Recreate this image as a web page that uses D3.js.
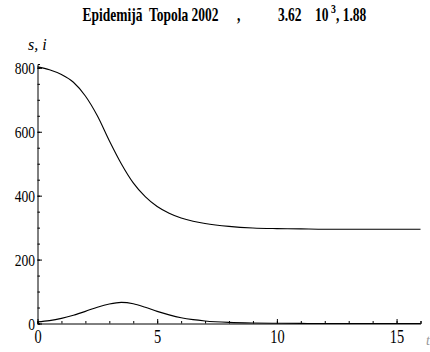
<!DOCTYPE html>
<html>
<head>
<meta charset="utf-8">
<script src="https://cdn.jsdelivr.net/npm/d3@7"></script>
<style>
  body { margin: 0; background: #fff; }
  svg { display: block; }
</style>
</head>
<body>
<div id="container"></div>
<script>
let w = 430;
let h = 352;

// time points
let tValues = [0, 0.5, 1, 1.5, 2, 2.5, 3, 3.5, 4, 4.5, 5, 5.5, 6, 6.5, 7, 8, 9, 10, 11, 12, 13, 14, 15, 16];
// susceptible s(t)
let sValues = [803, 794, 779, 755, 712, 650, 572, 500, 440, 397, 366, 345, 330, 320, 313, 304, 299, 297, 296, 295, 295, 295, 295, 295];
// infected i(t)
let iValues = [5, 9, 16, 26, 38, 51, 61, 66, 62, 51, 38, 27, 18, 12, 8, 3.5, 1.5, 0.7, 0.3, 0, 0, 0, 0, 0];

let xMajor = [0, 5, 10, 15];
let yMajor = [0, 200, 400, 600, 800];

let viz = d3.select("#container").append("svg")
    .attr("width", w)
    .attr("height", h)
;

let xScale = d3.scaleLinear().domain([0, 16]).range([37.5, 420.5]);
let yScale = d3.scaleLinear().domain([0, 812]).range([323.5, 64]);

let fontFam = "'Liberation Serif', 'Times New Roman', serif";

// x axis: minor ticks every unit, major every 5, all pointing up
let xAxisGroup = viz.append("g").attr("transform", "translate(0," + yScale(0) + ")");
xAxisGroup.call(d3.axisBottom(xScale).tickValues(d3.range(0, 17, 1)).tickSize(-2.5).tickFormat(""));
let xMajorGroup = viz.append("g").attr("transform", "translate(0," + yScale(0) + ")");
xMajorGroup.call(d3.axisBottom(xScale).tickValues(xMajor).tickSize(-4.5).tickPadding(8).tickFormat(d3.format("d")));
xMajorGroup.select(".domain").remove();

// y axis: minor ticks every 50, major every 200, pointing right
let yAxisGroup = viz.append("g").attr("transform", "translate(" + xScale(0) + ",0)");
yAxisGroup.call(d3.axisLeft(yScale).tickValues(d3.range(0, 801, 50)).tickSize(-2.5).tickFormat(""));
let yMajorGroup = viz.append("g").attr("transform", "translate(" + xScale(0) + ",0)");
yMajorGroup.call(d3.axisLeft(yScale).tickValues(yMajor).tickSize(-4.5).tickPadding(3).tickFormat(d3.format("d")));
yMajorGroup.select(".domain").remove();

viz.selectAll(".domain").attr("stroke", "#000").attr("stroke-width", 1);
viz.selectAll(".tick line").attr("stroke", "#000").attr("stroke-width", 1);

// squeezed serif tick labels, like the original export
xMajorGroup.selectAll("text")
  .attr("font-family", fontFam)
  .attr("font-size", 18)
  .attr("fill", "#000")
  .attr("dy", "0.62em")
  .attr("transform", "scale(0.8,1)")
;
yMajorGroup.selectAll("text")
  .attr("font-family", fontFam)
  .attr("font-size", 17)
  .attr("fill", "#000")
  .attr("x", -3)
  .attr("dy", "0.35em")
  .attr("transform", "scale(0.8,1)")
;

// curves
let line = d3.line()
  .x(function(d){ return xScale(d[0]); })
  .y(function(d){ return yScale(d[1]); })
  .curve(d3.curveMonotoneX)
;
let sData = tValues.map(function(t, k){ return [t, sValues[k]]; });
let iData = tValues.map(function(t, k){ return [t, iValues[k]]; });

viz.append("path").datum(sData)
  .attr("d", line).attr("fill", "none").attr("stroke", "#000").attr("stroke-width", 1.1);
viz.append("path").datum(iData)
  .attr("d", line).attr("fill", "none").attr("stroke", "#000").attr("stroke-width", 1.1);

// axis label
viz.append("text")
  .attr("x", 28).attr("y", 50)
  .attr("font-family", fontFam).attr("font-style", "italic").attr("font-size", 16)
  .text("s, i");

// title pieces (greek letters are missing in the original export)
let title = viz.append("g")
  .attr("font-family", fontFam)
  .attr("font-weight", "bold")
  .attr("font-size", 18)
  .attr("fill", "#000");
let titleParts = [
  {x: 82.5, t: "Epidemijã"},
  {x: 149, t: "Topola 2002"},
  {x: 237, t: ","},
  {x: 278, t: "3.62"},
  {x: 315, t: "10"},
  {x: 336, t: ", 1.88"}
];
titleParts.forEach(function(p){
  title.append("text")
    .attr("transform", "translate(" + p.x + ",21) scale(0.75,1)")
    .text(p.t);
});
title.append("text")
  .attr("transform", "translate(331,13) scale(0.75,1)")
  .attr("font-size", 13)
  .text("3");

// clipped axis label at far right
viz.append("text")
  .attr("x", 426).attr("y", 345)
  .attr("font-family", fontFam).attr("font-style", "italic").attr("font-size", 14)
  .attr("fill", "#999")
  .text("t");
</script>
</body>
</html>
